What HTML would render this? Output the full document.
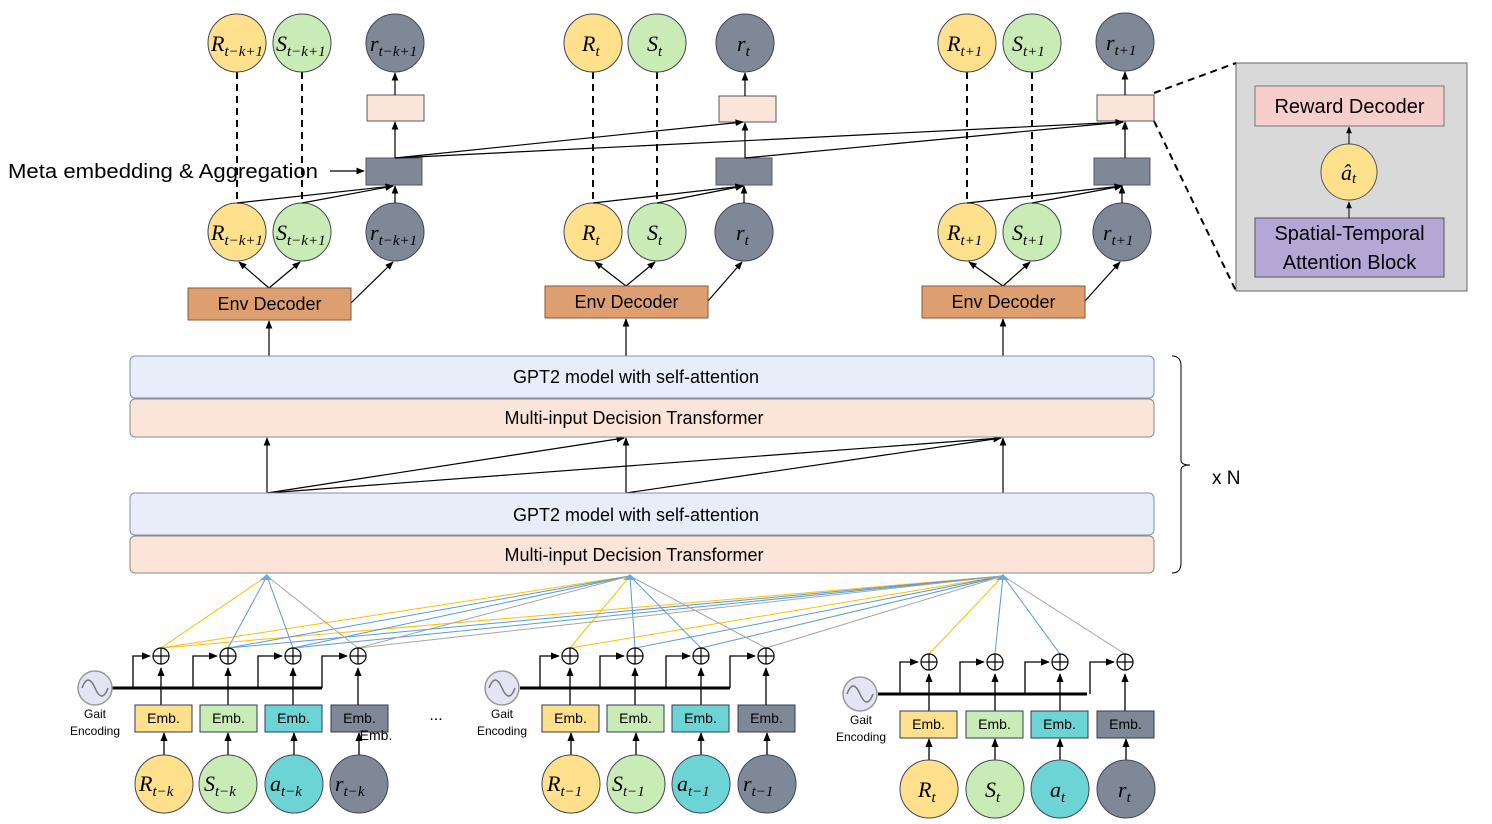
<!DOCTYPE html>
<html><head><meta charset="utf-8"><style>
body{margin:0;background:#fff}
svg{display:block}
.t{font-family:"Liberation Sans",sans-serif}
.m{font-family:"Liberation Serif",serif;font-style:italic;font-size:22px}
.s{font-size:15px}
</style></head><body>
<svg width="1492" height="824" viewBox="0 0 1492 824" xmlns="http://www.w3.org/2000/svg">
<defs>
<marker id="a" viewBox="0 0 10 10" refX="9" refY="5" markerWidth="7" markerHeight="7" orient="auto"><path d="M0,1 L10,5 L0,9z" fill="#000"/></marker>
</defs>
<rect x="1236" y="63" width="231" height="228" fill="#d9d9d9" stroke="#666"/>
<rect x="1255" y="86" width="189" height="40" fill="#f8cecc" stroke="#777"/>
<text x="1349.5" y="113" class="t" font-size="20" text-anchor="middle">Reward Decoder</text>
<circle cx="1349" cy="172" r="28" fill="#ffe08c" stroke="#555"/>
<text x="1341" y="180" class="m">â<tspan class="s" dy="3">t</tspan></text>
<rect x="1255" y="218" width="189" height="59" fill="#b4a7d6" stroke="#555"/>
<text x="1349.5" y="240" class="t" font-size="20" text-anchor="middle">Spatial-Temporal</text>
<text x="1349.5" y="269" class="t" font-size="20" text-anchor="middle">Attention Block</text>
<line x1="1349" y1="218" x2="1349" y2="202" stroke="#000" marker-end="url(#a)"/>
<line x1="1349" y1="144" x2="1349" y2="127" stroke="#000" marker-end="url(#a)"/>
<line x1="1154" y1="93" x2="1236" y2="63" stroke="#000" stroke-width="2" stroke-dasharray="7,5"/>
<line x1="1154" y1="121" x2="1236" y2="291" stroke="#000" stroke-width="2" stroke-dasharray="7,5"/>
<g stroke="#000" stroke-width="2" stroke-dasharray="7,5">
<line x1="237" y1="72" x2="237" y2="203"/><line x1="302" y1="72" x2="302" y2="203"/>
<line x1="593" y1="72" x2="593" y2="203"/><line x1="657" y1="72" x2="657" y2="203"/>
<line x1="967" y1="72" x2="967" y2="203"/><line x1="1032" y1="72" x2="1032" y2="203"/>
</g>
<g stroke="#445">
<circle cx="237" cy="43" r="29" fill="#ffe08c"/><circle cx="302" cy="43" r="29" fill="#c9ebb5"/><circle cx="395" cy="43" r="29" fill="#7f8896"/>
<circle cx="593" cy="43" r="29" fill="#ffe08c"/><circle cx="657" cy="43" r="29" fill="#c9ebb5"/><circle cx="745" cy="43" r="29" fill="#7f8896"/>
<circle cx="967" cy="43" r="29" fill="#ffe08c"/><circle cx="1032" cy="43" r="29" fill="#c9ebb5"/><circle cx="1125" cy="42" r="29" fill="#7f8896"/>
<circle cx="237" cy="232" r="29" fill="#ffe08c"/><circle cx="302" cy="232" r="29" fill="#c9ebb5"/><circle cx="395" cy="232" r="29" fill="#7f8896"/>
<circle cx="593" cy="232" r="29" fill="#ffe08c"/><circle cx="657" cy="232" r="29" fill="#c9ebb5"/><circle cx="744" cy="232" r="29" fill="#7f8896"/>
<circle cx="967" cy="232" r="29" fill="#ffe08c"/><circle cx="1032" cy="232" r="29" fill="#c9ebb5"/><circle cx="1122" cy="232" r="29" fill="#7f8896"/>
</g>
<g class="m">
<text x="211" y="51">R<tspan class="s" dy="5">t−k+1</tspan></text>
<text x="276" y="51">S<tspan class="s" dy="5">t−k+1</tspan></text>
<text x="370" y="51">r<tspan class="s" dy="5">t−k+1</tspan></text>
<text x="582" y="51">R<tspan class="s" dy="5">t</tspan></text>
<text x="647" y="51">S<tspan class="s" dy="5">t</tspan></text>
<text x="737" y="51">r<tspan class="s" dy="5">t</tspan></text>
<text x="947" y="51">R<tspan class="s" dy="5">t+1</tspan></text>
<text x="1012" y="51">S<tspan class="s" dy="5">t+1</tspan></text>
<text x="1106" y="50">r<tspan class="s" dy="5">t+1</tspan></text>
<text x="211" y="240">R<tspan class="s" dy="5">t−k+1</tspan></text>
<text x="276" y="240">S<tspan class="s" dy="5">t−k+1</tspan></text>
<text x="370" y="240">r<tspan class="s" dy="5">t−k+1</tspan></text>
<text x="582" y="240">R<tspan class="s" dy="5">t</tspan></text>
<text x="647" y="240">S<tspan class="s" dy="5">t</tspan></text>
<text x="736" y="240">r<tspan class="s" dy="5">t</tspan></text>
<text x="947" y="240">R<tspan class="s" dy="5">t+1</tspan></text>
<text x="1012" y="240">S<tspan class="s" dy="5">t+1</tspan></text>
<text x="1103" y="240">r<tspan class="s" dy="5">t+1</tspan></text>
</g>
<g stroke="#556">
<rect x="367" y="95" width="57" height="26" fill="#fae5d8"/><rect x="719" y="96" width="57" height="26" fill="#fae5d8"/><rect x="1097" y="95" width="57" height="26" fill="#fae5d8"/>
<rect x="366" y="158" width="56" height="27" fill="#7f8896"/><rect x="716" y="158" width="56" height="27" fill="#7f8896"/><rect x="1094" y="158" width="56" height="27" fill="#7f8896"/>
</g>
<text x="8" y="178" class="t" font-size="20" textLength="310" lengthAdjust="spacingAndGlyphs">Meta embedding &amp; Aggregation</text>
<g stroke="#000" stroke-width="1.2" fill="none">
<line x1="330" y1="171" x2="364" y2="171" marker-end="url(#a)"/>
<line x1="395" y1="158" x2="395" y2="122" marker-end="url(#a)"/>
<line x1="395" y1="95" x2="395" y2="73" marker-end="url(#a)"/>
<line x1="745" y1="158" x2="745" y2="123" marker-end="url(#a)"/>
<line x1="745" y1="96" x2="745" y2="73" marker-end="url(#a)"/>
<line x1="1125" y1="158" x2="1125" y2="122" marker-end="url(#a)"/>
<line x1="1125" y1="95" x2="1125" y2="72" marker-end="url(#a)"/>
<line x1="395" y1="203" x2="395" y2="186" marker-end="url(#a)"/>
<line x1="744" y1="203" x2="744" y2="186" marker-end="url(#a)"/>
<line x1="1122" y1="203" x2="1122" y2="186" marker-end="url(#a)"/>
<line x1="237" y1="203" x2="393" y2="186" marker-end="url(#a)"/>
<line x1="302" y1="203" x2="393" y2="186" marker-end="url(#a)"/>
<line x1="593" y1="203" x2="743" y2="186" marker-end="url(#a)"/>
<line x1="657" y1="203" x2="743" y2="186" marker-end="url(#a)"/>
<line x1="967" y1="203" x2="1122" y2="186" marker-end="url(#a)"/>
<line x1="1032" y1="203" x2="1122" y2="186" marker-end="url(#a)"/>
<line x1="395" y1="158" x2="743" y2="122" marker-end="url(#a)"/>
<line x1="395" y1="158" x2="1123" y2="122" marker-end="url(#a)"/>
<line x1="745" y1="158" x2="1123" y2="122" marker-end="url(#a)"/>
<line x1="269" y1="288" x2="239" y2="262" marker-end="url(#a)"/>
<line x1="269" y1="288" x2="300" y2="262" marker-end="url(#a)"/>
<line x1="351" y1="303" x2="393" y2="262" marker-end="url(#a)"/>
<line x1="626" y1="286" x2="595" y2="262" marker-end="url(#a)"/>
<line x1="626" y1="286" x2="655" y2="262" marker-end="url(#a)"/>
<line x1="708" y1="301" x2="742" y2="262" marker-end="url(#a)"/>
<line x1="1003" y1="286" x2="969" y2="262" marker-end="url(#a)"/>
<line x1="1003" y1="286" x2="1030" y2="262" marker-end="url(#a)"/>
<line x1="1085" y1="301" x2="1120" y2="262" marker-end="url(#a)"/>
<line x1="269" y1="356" x2="269" y2="321" marker-end="url(#a)"/>
<line x1="626" y1="356" x2="626" y2="319" marker-end="url(#a)"/>
<line x1="1003" y1="356" x2="1003" y2="319" marker-end="url(#a)"/>
<line x1="267" y1="493" x2="267" y2="438" marker-end="url(#a)"/>
<line x1="626" y1="493" x2="626" y2="438" marker-end="url(#a)"/>
<line x1="1003" y1="493" x2="1003" y2="438" marker-end="url(#a)"/>
<line x1="267" y1="493" x2="624" y2="438" marker-end="url(#a)"/>
<line x1="267" y1="493" x2="1001" y2="438" marker-end="url(#a)"/>
<line x1="626" y1="493" x2="1001" y2="438" marker-end="url(#a)"/>
</g>
<g stroke="#8a5a3a" fill="#de9f70">
<rect x="188" y="288" width="163" height="32"/><rect x="545" y="286" width="163" height="32"/><rect x="922" y="286" width="163" height="32"/>
</g>
<g class="t" font-size="18" text-anchor="middle">
<text x="269.5" y="310">Env Decoder</text><text x="626.5" y="308">Env Decoder</text><text x="1003.5" y="308">Env Decoder</text>
</g>
<g stroke="#7f8fb0">
<rect x="130" y="356" width="1024" height="42" rx="5" fill="#e8eef9"/>
<rect x="130" y="399" width="1024" height="38" rx="5" fill="#fae5d8" stroke="#8a8a8a"/>
<rect x="130" y="493" width="1024" height="42" rx="5" fill="#e8eef9"/>
<rect x="130" y="536" width="1024" height="37" rx="5" fill="#fae5d8" stroke="#8a8a8a"/>
</g>
<g class="t" font-size="18" text-anchor="middle">
<text x="636" y="383">GPT2 model with self-attention</text>
<text x="634" y="424">Multi-input Decision Transformer</text>
<text x="636" y="521">GPT2 model with self-attention</text>
<text x="634" y="561">Multi-input Decision Transformer</text>
</g>
<path d="M1172,356 Q1181,356 1181,366 L1181,460 Q1181,465 1190,465 Q1181,465 1181,470 L1181,563 Q1181,573 1172,573" fill="none" stroke="#000"/>
<text x="1212" y="484" class="t" font-size="19">x N</text>
<g stroke-width="1">
<g stroke="#ffc000"><line x1="161" y1="648" x2="267" y2="576"/><line x1="161" y1="648" x2="630" y2="576"/><line x1="161" y1="648" x2="1003" y2="576"/>
<line x1="570" y1="648" x2="630" y2="576"/><line x1="570" y1="648" x2="1003" y2="576"/><line x1="929" y1="654" x2="1003" y2="576"/></g>
<g stroke="#5b9bd5"><line x1="228" y1="648" x2="267" y2="576"/><line x1="228" y1="648" x2="630" y2="576"/><line x1="228" y1="648" x2="1003" y2="576"/>
<line x1="293" y1="648" x2="267" y2="576"/><line x1="293" y1="648" x2="630" y2="576"/><line x1="293" y1="648" x2="1003" y2="576"/>
<line x1="635" y1="648" x2="630" y2="576"/><line x1="635" y1="648" x2="1003" y2="576"/><line x1="701" y1="648" x2="630" y2="576"/><line x1="701" y1="648" x2="1003" y2="576"/>
<line x1="995" y1="654" x2="1003" y2="576"/><line x1="1060" y1="654" x2="1003" y2="576"/></g>
<g stroke="#a6a6a6"><line x1="358" y1="648" x2="267" y2="576"/><line x1="358" y1="648" x2="630" y2="576"/><line x1="358" y1="648" x2="1003" y2="576"/>
<line x1="766" y1="648" x2="630" y2="576"/><line x1="766" y1="648" x2="1003" y2="576"/><line x1="1125" y1="654" x2="1003" y2="576"/></g>
</g>
<g fill="#6fa8dc"><path d="M260,580 L267,574 L272,580z"/><path d="M623,580 L630,574 L636,580z"/><path d="M996,580 L1003,574 L1009,580z"/></g>
<g stroke="#000" stroke-width="1.3" fill="none">
<path d="M112,688 L322,688" stroke-width="3"/>
<path d="M133,688 V656 H150" marker-end="url(#a)"/><path d="M193,688 V656 H217" marker-end="url(#a)"/><path d="M258,688 V656 H282" marker-end="url(#a)"/><path d="M322,688 V656 H347" marker-end="url(#a)"/>
<path d="M520,688 L730,688" stroke-width="3"/>
<path d="M540,688 V656 H559" marker-end="url(#a)"/><path d="M600,688 V656 H624" marker-end="url(#a)"/><path d="M666,688 V656 H690" marker-end="url(#a)"/><path d="M730,688 V656 H755" marker-end="url(#a)"/>
<path d="M878,694 L1087,694" stroke-width="3"/>
<path d="M900,694 V662 H918" marker-end="url(#a)"/><path d="M960,694 V662 H984" marker-end="url(#a)"/><path d="M1025,694 V662 H1049" marker-end="url(#a)"/><path d="M1090,694 V662 H1114" marker-end="url(#a)"/>
</g>
<g stroke="#000" stroke-width="1.3">
<line x1="161" y1="705" x2="161" y2="668" marker-end="url(#a)"/><line x1="228" y1="705" x2="228" y2="668" marker-end="url(#a)"/><line x1="293" y1="705" x2="293" y2="668" marker-end="url(#a)"/><line x1="358" y1="705" x2="358" y2="668" marker-end="url(#a)"/>
<line x1="570" y1="705" x2="570" y2="668" marker-end="url(#a)"/><line x1="635" y1="705" x2="635" y2="668" marker-end="url(#a)"/><line x1="701" y1="705" x2="701" y2="668" marker-end="url(#a)"/><line x1="766" y1="705" x2="766" y2="668" marker-end="url(#a)"/>
<line x1="929" y1="711" x2="929" y2="674" marker-end="url(#a)"/><line x1="995" y1="711" x2="995" y2="674" marker-end="url(#a)"/><line x1="1060" y1="711" x2="1060" y2="674" marker-end="url(#a)"/><line x1="1125" y1="711" x2="1125" y2="674" marker-end="url(#a)"/>
<line x1="164" y1="755" x2="164" y2="733" marker-end="url(#a)"/><line x1="228" y1="755" x2="228" y2="733" marker-end="url(#a)"/><line x1="294" y1="755" x2="294" y2="733" marker-end="url(#a)"/><line x1="359" y1="755" x2="359" y2="733" marker-end="url(#a)"/>
<line x1="571" y1="755" x2="571" y2="733" marker-end="url(#a)"/><line x1="636" y1="755" x2="636" y2="733" marker-end="url(#a)"/><line x1="701" y1="755" x2="701" y2="733" marker-end="url(#a)"/><line x1="767" y1="755" x2="767" y2="733" marker-end="url(#a)"/>
<line x1="929" y1="760" x2="929" y2="739" marker-end="url(#a)"/><line x1="995" y1="760" x2="995" y2="739" marker-end="url(#a)"/><line x1="1060" y1="760" x2="1060" y2="739" marker-end="url(#a)"/><line x1="1126" y1="760" x2="1126" y2="739" marker-end="url(#a)"/>
</g>
<g fill="#fff" stroke="#000" stroke-width="1.2">
<circle cx="161" cy="656" r="8"/><circle cx="228" cy="656" r="8"/><circle cx="293" cy="656" r="8"/><circle cx="358" cy="656" r="8"/>
<circle cx="570" cy="656" r="8"/><circle cx="635" cy="656" r="8"/><circle cx="701" cy="656" r="8"/><circle cx="766" cy="656" r="8"/>
<circle cx="929" cy="662" r="8"/><circle cx="995" cy="662" r="8"/><circle cx="1060" cy="662" r="8"/><circle cx="1125" cy="662" r="8"/>
</g>
<g stroke="#000" stroke-width="1.2">
<path d="M153,656h16M161,648v16M220,656h16M228,648v16M285,656h16M293,648v16M350,656h16M358,648v16"/>
<path d="M562,656h16M570,648v16M627,656h16M635,648v16M693,656h16M701,648v16M758,656h16M766,648v16"/>
<path d="M921,662h16M929,654v16M987,662h16M995,654v16M1052,662h16M1060,654v16M1117,662h16M1125,654v16"/>
</g>
<g fill="#e4e4f4" stroke="#999" stroke-width="1.5">
<circle cx="95" cy="688" r="17"/><circle cx="502" cy="688" r="17"/><circle cx="860" cy="694" r="17"/>
</g>
<g fill="none" stroke="#777" stroke-width="1.5">
<path d="M82,688 q6,-16 13,0 t13,0"/><path d="M489,688 q6,-16 13,0 t13,0"/><path d="M847,694 q6,-16 13,0 t13,0"/>
</g>
<g class="t" font-size="12" text-anchor="middle">
<text x="95" y="718">Gait</text><text x="95" y="735">Encoding</text>
<text x="502" y="718">Gait</text><text x="502" y="735">Encoding</text>
<text x="861" y="724">Gait</text><text x="861" y="741">Encoding</text>
</g>
<g stroke="#2f3b55">
<rect x="135" y="705" width="57" height="27" fill="#ffe08c"/><rect x="200" y="705" width="57" height="27" fill="#c9ebb5"/><rect x="265" y="705" width="57" height="27" fill="#6dd4d6"/><rect x="331" y="705" width="57" height="27" fill="#7f8896"/>
<rect x="542" y="705" width="57" height="27" fill="#ffe08c"/><rect x="607" y="705" width="57" height="27" fill="#c9ebb5"/><rect x="672" y="705" width="57" height="27" fill="#6dd4d6"/><rect x="738" y="705" width="57" height="27" fill="#7f8896"/>
<rect x="900" y="711" width="57" height="27" fill="#ffe08c"/><rect x="966" y="711" width="57" height="27" fill="#c9ebb5"/><rect x="1031" y="711" width="57" height="27" fill="#6dd4d6"/><rect x="1097" y="711" width="57" height="27" fill="#7f8896"/>
</g>
<g class="t" font-size="14" text-anchor="middle">
<text x="163.5" y="723">Emb.</text><text x="228.5" y="723">Emb.</text><text x="293.5" y="723">Emb.</text><text x="359.5" y="723">Emb.</text>
<text x="376" y="740">Emb.</text>
<text x="570.5" y="723">Emb.</text><text x="635.5" y="723">Emb.</text><text x="700.5" y="723">Emb.</text><text x="766.5" y="723">Emb.</text>
<text x="928.5" y="729">Emb.</text><text x="994.5" y="729">Emb.</text><text x="1059.5" y="729">Emb.</text><text x="1125.5" y="729">Emb.</text>
<text x="436" y="720" font-size="16">...</text>
</g>
<g stroke="#445">
<circle cx="164" cy="784" r="29" fill="#ffe08c"/><circle cx="228" cy="784" r="29" fill="#c9ebb5"/><circle cx="294" cy="784" r="29" fill="#6dd4d6"/><circle cx="359" cy="784" r="29" fill="#7f8896"/>
<circle cx="571" cy="784" r="29" fill="#ffe08c"/><circle cx="636" cy="784" r="29" fill="#c9ebb5"/><circle cx="701" cy="784" r="29" fill="#6dd4d6"/><circle cx="767" cy="784" r="29" fill="#7f8896"/>
<circle cx="929" cy="789" r="29" fill="#ffe08c"/><circle cx="995" cy="789" r="29" fill="#c9ebb5"/><circle cx="1060" cy="789" r="29" fill="#6dd4d6"/><circle cx="1126" cy="789" r="29" fill="#7f8896"/>
</g>
<g class="m">
<text x="139" y="791">R<tspan class="s" dy="5">t−k</tspan></text>
<text x="204" y="791">S<tspan class="s" dy="5">t−k</tspan></text>
<text x="270" y="791">a<tspan class="s" dy="5">t−k</tspan></text>
<text x="335" y="791">r<tspan class="s" dy="5">t−k</tspan></text>
<text x="547" y="791">R<tspan class="s" dy="5">t−1</tspan></text>
<text x="612" y="791">S<tspan class="s" dy="5">t−1</tspan></text>
<text x="677" y="791">a<tspan class="s" dy="5">t−1</tspan></text>
<text x="743" y="791">r<tspan class="s" dy="5">t−1</tspan></text>
<text x="918" y="797">R<tspan class="s" dy="5">t</tspan></text>
<text x="985" y="797">S<tspan class="s" dy="5">t</tspan></text>
<text x="1050" y="797">a<tspan class="s" dy="5">t</tspan></text>
<text x="1118" y="797">r<tspan class="s" dy="5">t</tspan></text>
</g>
</svg>
</body></html>
